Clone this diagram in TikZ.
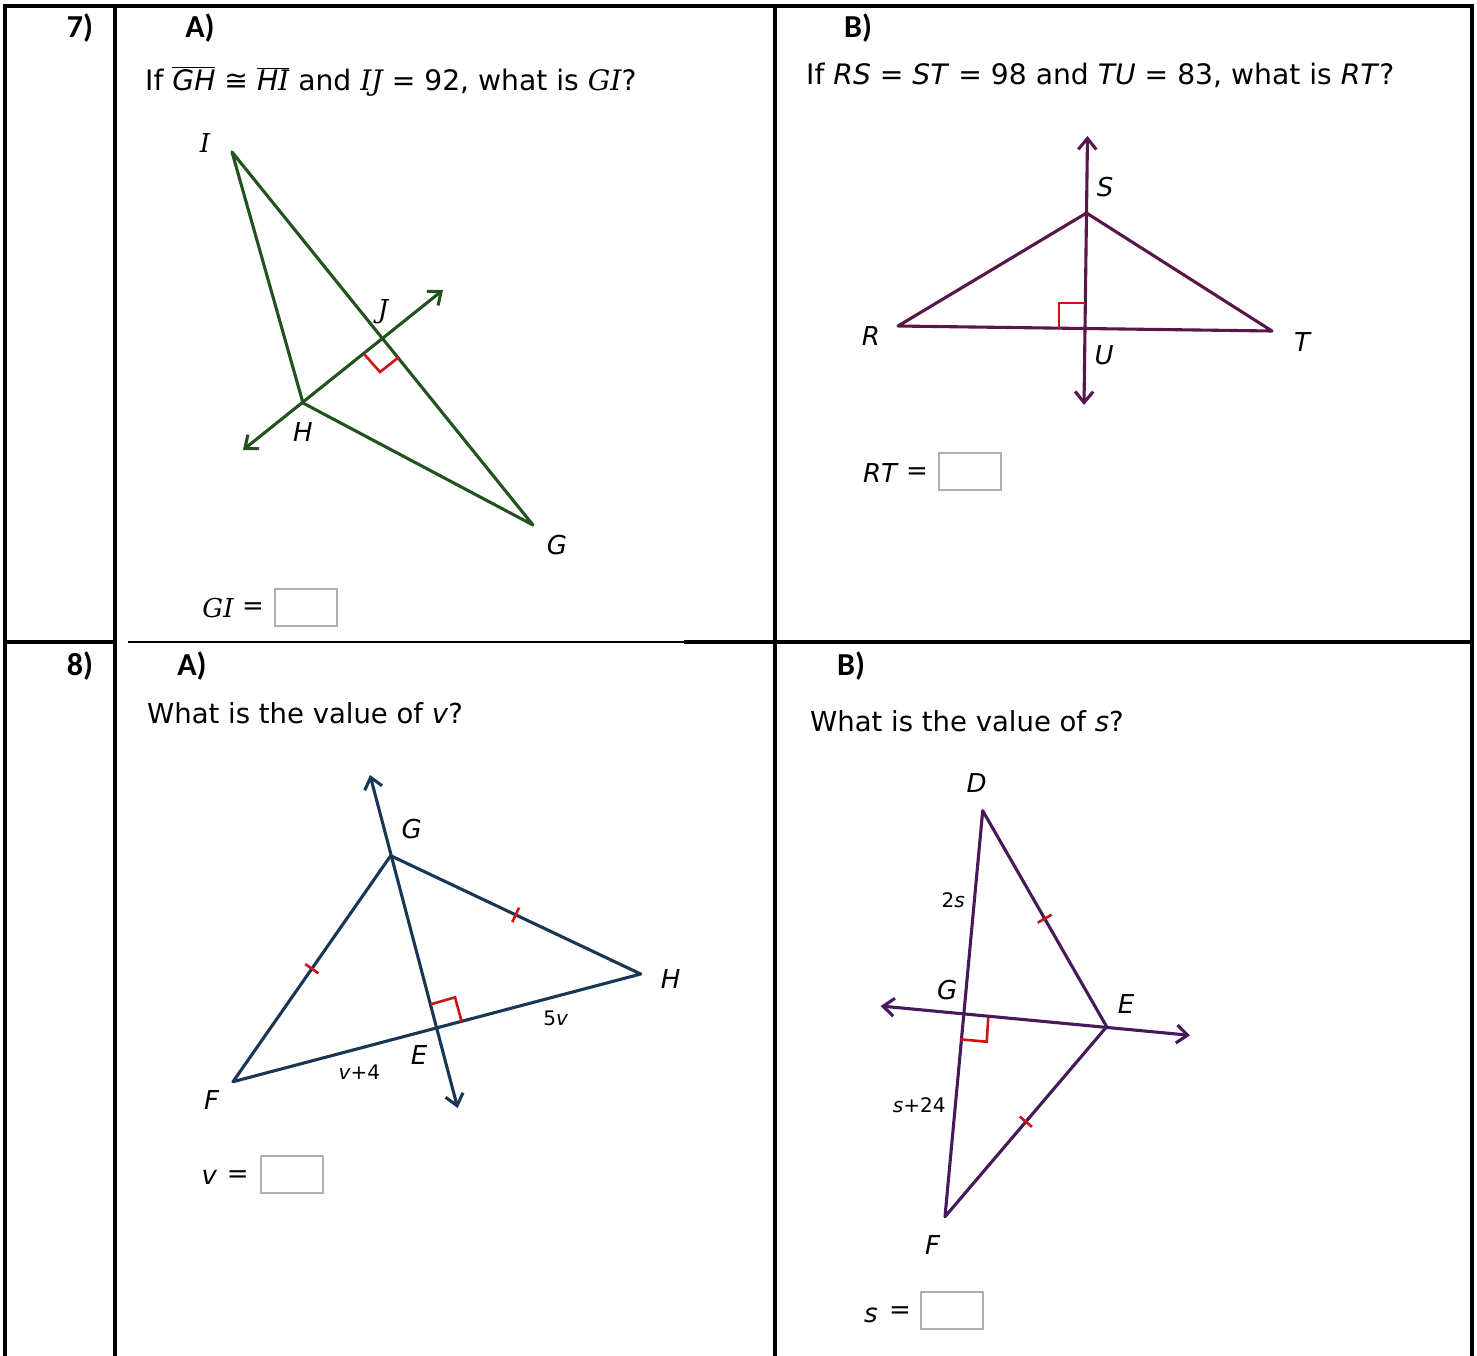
\documentclass[tikz,border=0pt]{standalone}
\usepackage{fontspec}
\setmainfont{DejaVu Sans}
\newfontfamily\calib{Carlito}
\newfontfamily\dserif{DejaVu Serif}
\usetikzlibrary{arrows.meta,calc}
\definecolor{green7}{RGB}{34,82,30}
\definecolor{purpA}{RGB}{90,22,72}
\definecolor{navy8}{RGB}{25,55,85}
\definecolor{purpB}{RGB}{70,25,90}
\definecolor{markred}{RGB}{205,20,20}
\definecolor{ansgray}{RGB}{175,175,175}
\newcommand\ovl[1]{$\overline{\hbox{#1}}$}
\begin{document}
\begin{tikzpicture}[x=1pt,y=-1pt,
  tbl/.style={line width=3.2pt,line cap=rect},
  lbl/.style={inner sep=0pt,font=\fontsize{26}{30}\selectfont\itshape},
  slbl/.style={inner sep=0pt,font=\fontsize{20}{24}\selectfont},
  hd/.style={inner sep=0pt,anchor=base,font=\calib\bfseries\fontsize{32}{36}\selectfont},
  qtxt/.style={inner sep=0pt,anchor=base west,font=\fontsize{27.5}{32}\selectfont},
  qwide/.style={inner sep=0pt,anchor=base west,font=\fontsize{28.2}{32}\selectfont},
  eqs/.style={inner sep=0pt,font=\fontsize{26}{30}\selectfont},
  ans/.style={draw=ansgray,line width=1.6pt,minimum width=62pt,minimum height=37pt,inner sep=0pt},
  geo/.style={line width=3.1pt,line join=round,line cap=round},
  ramark/.style={draw=markred,line width=2.6pt},
  tickm/.style={draw=markred,line width=2.6pt},
  dbl/.style={{Straight Barb[length=11pt,width=18pt]}-{Straight Barb[length=11pt,width=18pt]}}
]
\useasboundingbox (0,0) rectangle (1477,1355);
\fill[white] (0,0) rectangle (1477,1355);

% ---------- table ----------
\draw[tbl] (5,1360) -- (5,6) -- (1472,6) -- (1472,1360);
\draw[tbl] (115,6) -- (115,1360);
\draw[tbl] (775,6) -- (775,1360);
\draw[tbl] (5,642) -- (115,642);
\draw[line width=2.9pt] (128,642) -- (686,642);
\draw[tbl] (686,642) -- (1472,642);

% ---------- headings ----------
\node[hd] (h7) at (80,37) {7)};
\node[hd] (h7a) at (200,37) {A)};
\node[hd] (h7b) at (858,37) {B)};
\node[hd] (h8) at (80,675) {8)};
\node[hd] (h8a) at (192,675) {A)};
\node[hd] (h8b) at (851,675) {B)};

% ---------- questions ----------
\node[qwide] (q7a) at (145,90) {If \ovl{\itshape GH} ≅ \ovl{\itshape H{\dserif I}} and {\dserif\itshape IJ} = 92, what is {\dserif\itshape GI}?};
\node[qwide] (q7b) at (806,84) {If \textit{RS} = \textit{ST} = 98 and \textit{TU} = 83, what is \textit{RT}?};
\node[qtxt] (q8a) at (147,723) {What is the value of \textit{v}?};
\node[qtxt] (q8b) at (810,731) {What is the value of \textit{s}?};

% ---------- 7A ----------
\coordinate (I7) at (232,152);
\coordinate (H7) at (303,403);
\coordinate (G7) at (533,525);
\coordinate (J7) at (382,338);
\coordinate (L7a) at (243,450);
\coordinate (L7b) at (443,290);
\draw[geo,green7] (I7) -- (H7) -- (G7) -- cycle;
\draw[geo,green7,dbl] (L7a) -- (L7b);
\coordinate (r7a) at (364,354);
\coordinate (r7b) at (380,372);
\coordinate (r7c) at (399,357);
\draw[ramark] (r7a) -- (r7b) -- (r7c);
\node[lbl,font=\dserif\fontsize{26}{30}\selectfont\itshape] (lI7) at (205,143) {I};
\node[lbl,font=\dserif\fontsize{26}{30}\selectfont\itshape] (lJ7) at (383,312) {J};
\node[lbl] (lH7) at (303,432) {H};
\node[lbl] (lG7) at (557,545) {G};
\node[eqs,font=\dserif\fontsize{26}{30}\selectfont\itshape] (a7t) at (218,608) {GI};
\node[eqs] (a7e) at (253,609) {=};
\node[ans] (a7box) at (306,607.5) {};

% ---------- 7B ----------
\coordinate (S7) at (1086.5,213);
\coordinate (R7) at (898,326);
\coordinate (T7) at (1272,331);
\coordinate (U7) at (1086,329);
\coordinate (V7a) at (1087.5,136);
\coordinate (V7b) at (1084,405);
\draw[geo,purpA] (R7) -- (S7) -- (T7) -- cycle;
\draw[geo,purpA,dbl] (V7b) -- (V7a);
\coordinate (r7d) at (1059,328);
\coordinate (r7e) at (1059,303);
\coordinate (r7f) at (1085,303);
\draw[ramark] (r7d) -- (r7e) -- (r7f);
\node[lbl] (lS7) at (1105,187) {S};
\node[lbl] (lR7) at (871,336) {R};
\node[lbl] (lT7) at (1302,342) {T};
\node[lbl] (lU7) at (1104,355) {U};
\node[eqs,font=\fontsize{26}{30}\selectfont\itshape] (b7t) at (880,473) {RT};
\node[eqs] (b7e) at (917,474) {=};
\node[ans] (b7box) at (970,471.5) {};

% ---------- 8A ----------
\coordinate (G8) at (390.7,855.7);
\coordinate (F8) at (233,1081.7);
\coordinate (H8) at (640.7,974);
\coordinate (E8) at (436.7,1027.7);
\coordinate (L8a) at (370,775);
\coordinate (L8b) at (457.7,1108);
\draw[geo,navy8] (F8) -- (G8) -- (H8) -- cycle;
\draw[geo,navy8,dbl] (L8b) -- (L8a);
\coordinate (r8a) at (430.7,1004.3);
\coordinate (r8b) at (455,997.3);
\coordinate (r8c) at (461.7,1021.7);
\draw[ramark] (r8a) -- (r8b) -- (r8c);
\coordinate (t8a) at ($(F8)!0.5!(G8)$);
\coordinate (t8b) at ($(G8)!0.5!(H8)$);
\draw[tickm] ($(t8a)!8pt!90:(G8)$) -- ($(t8a)!8pt!-90:(G8)$);
\draw[tickm] ($(t8b)!8pt!90:(H8)$) -- ($(t8b)!8pt!-90:(H8)$);
\node[lbl] (lG8) at (411.7,829) {G};
\node[lbl] (lH8) at (670.7,979) {H};
\node[lbl] (lF8) at (211.7,1100) {F};
\node[lbl] (lE8) at (419,1055) {E};
\node[slbl] (l5v) at (555.7,1018.3) {5\textit{v}};
\node[slbl] (lv4) at (359.3,1072.3) {\textit{v}+4};
\node[eqs,font=\fontsize{26}{30}\selectfont\itshape] (c8t) at (209.3,1177) {v};
\node[eqs] (c8e) at (237.7,1177) {=};
\node[ans] (c8box) at (291.7,1174.7) {};

% ---------- 8B ----------
\coordinate (D9) at (982.7,810.7);
\coordinate (F9) at (945,1216.7);
\coordinate (E9) at (1106.7,1026.7);
\coordinate (G9) at (962.7,1014);
\coordinate (L9a) at (880.7,1006);
\coordinate (L9b) at (1190,1035.3);
\draw[geo,purpB] (D9) -- (E9) -- (F9) -- cycle;
\draw[geo,purpB,dbl] (L9a) -- (L9b);
\coordinate (r9a) at (988.3,1017.3);
\coordinate (r9b) at (986.7,1041.7);
\coordinate (r9c) at (960,1039.3);
\draw[ramark] (r9a) -- (r9b) -- (r9c);
\coordinate (t9a) at ($(D9)!0.5!(E9)$);
\coordinate (t9b) at ($(E9)!0.5!(F9)$);
\draw[tickm] ($(t9a)!8pt!90:(E9)$) -- ($(t9a)!8pt!-90:(E9)$);
\draw[tickm] ($(t9b)!8pt!90:(F9)$) -- ($(t9b)!8pt!-90:(F9)$);
\node[lbl] (lD9) at (976.7,782.7) {D};
\node[lbl] (lG9) at (947.3,990) {G};
\node[lbl] (lE9) at (1126,1004) {E};
\node[lbl] (lF9) at (932.7,1245) {F};
\node[slbl] (l2s) at (953.3,900.7) {2\textit{s}};
\node[slbl] (ls24) at (919.3,1105) {\textit{s}+24};
\node[eqs,font=\fontsize{26}{30}\selectfont\itshape] (d9t) at (871,1315) {s};
\node[eqs] (d9e) at (900,1313) {=};
\node[ans] (d9box) at (952,1310.5) {};
\end{tikzpicture}
\end{document}
